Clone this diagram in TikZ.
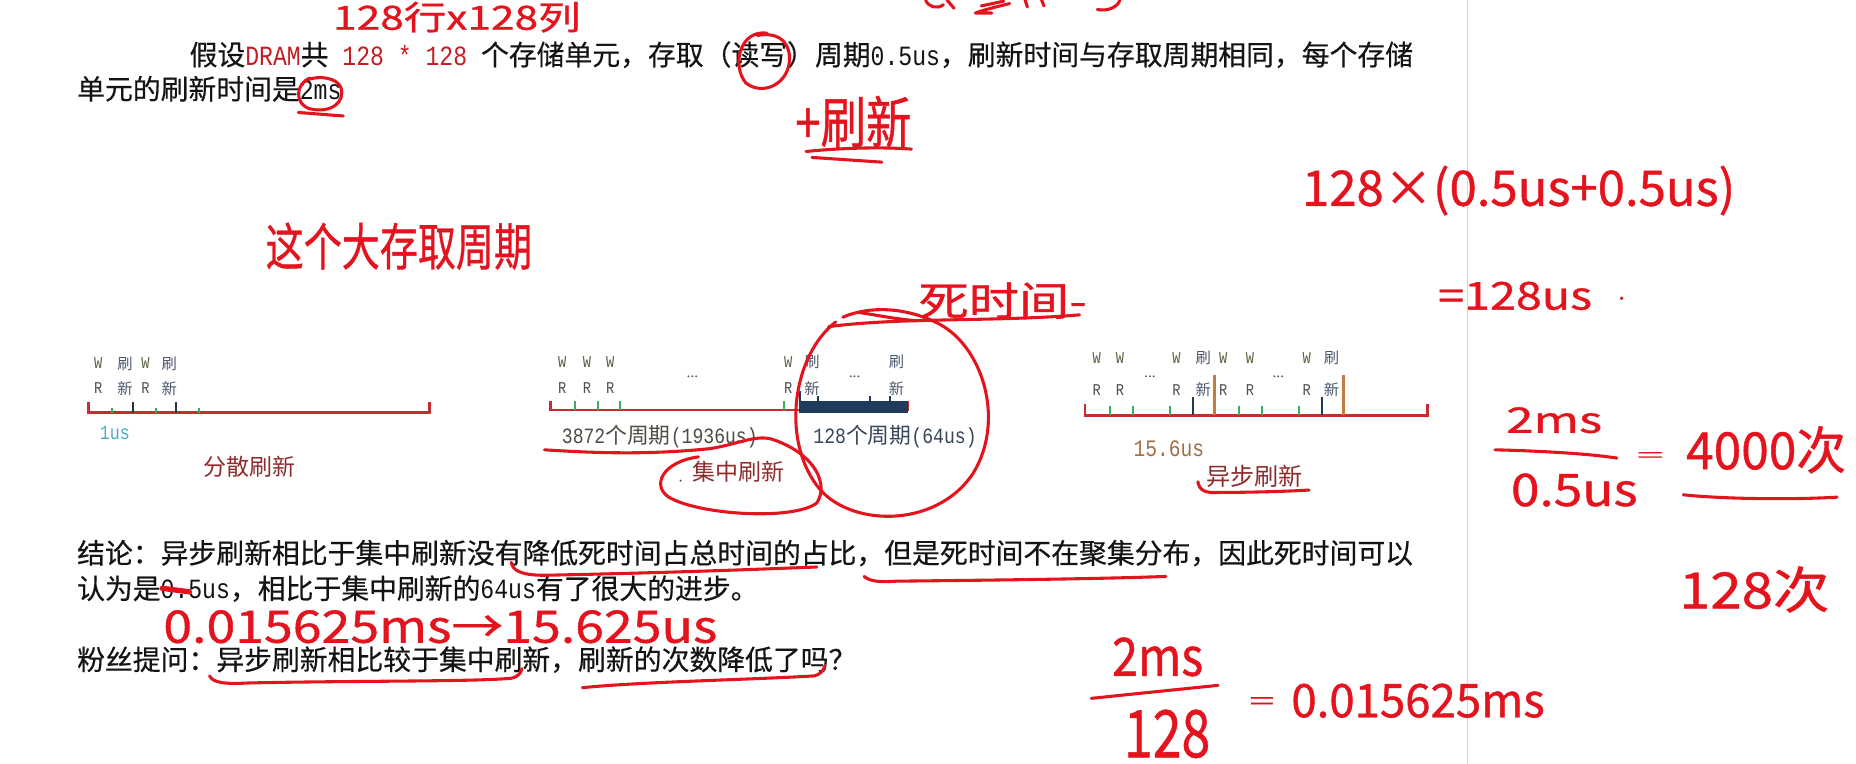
\documentclass[tikz,border=0pt]{standalone}
\usepackage{fontspec}
\usepackage{graphicx}
\setmainfont{Liberation Serif}
\newfontfamily\cjk{Noto Sans CJK SC}
\newfontfamily\cjkb[FakeBold=0.4]{Noto Sans CJK SC}
\newfontfamily\hm[FakeStretch=0.83]{Liberation Mono}
\newfontfamily\hand[FakeBold=0.8]{Noto Sans CJK SC}
\newcommand\hw[3]{\resizebox*{#1bp}{#2bp}{\hand #3}}
\definecolor{bodyk}{RGB}{20,20,20}
\definecolor{dred}{RGB}{196,30,36}
\definecolor{hred}{RGB}{228,20,30}
\definecolor{tlred}{RGB}{200,44,48}
\definecolor{tgreen}{RGB}{62,172,92}
\definecolor{tdark}{RGB}{42,50,66}
\definecolor{tnavy}{RGB}{32,58,92}
\definecolor{torange}{RGB}{200,122,62}
\definecolor{wcol}{RGB}{88,98,62}
\definecolor{rcol}{RGB}{80,80,76}
\definecolor{scol}{RGB}{76,90,110}
\definecolor{cyanl}{RGB}{72,172,200}
\definecolor{brownred}{RGB}{140,44,44}
\definecolor{olivek}{RGB}{72,80,66}
\definecolor{slatek}{RGB}{56,70,90}
\definecolor{tanl}{RGB}{160,110,70}
\definecolor{gline}{RGB}{212,212,212}
\begin{document}
\begin{tikzpicture}[x=1bp,y=-1bp,
  body/.style={anchor=base west, inner sep=0pt, text=bodyk, font={\cjkb\fontsize{23.6}{28}\selectfont}},
  tl/.style={draw=tlred, line width=2.2bp},
  gt/.style={draw=tgreen, line width=1.6bp},
  dt/.style={draw=tdark, line width=1.8bp},
  nt/.style={draw=tnavy, line width=2bp},
  ot/.style={draw=torange, line width=2bp},
  wst/.style={inner sep=0pt, text=wcol, font={\hm\fontsize{14}{14}\selectfont}},
  rst/.style={inner sep=0pt, text=rcol, font={\hm\fontsize{14}{14}\selectfont}},
  sst/.style={inner sep=0pt, text=scol, font={\cjk\fontsize{13}{13}\selectfont}},
  dotsn/.style={inner sep=0pt, text=rcol, font={\rmfamily\fontsize{13}{13}\selectfont}},
  captn/.style={inner sep=0pt, font={\cjk\fontsize{19.5}{22}\selectfont}},
  hwn/.style={inner sep=0pt, text=hred},
  hwl/.style={draw=hred, line width=2.6bp, line cap=round, line join=round}
]
\useasboundingbox (0,0) rectangle (1568,645);
\fill[white] (0,0) rectangle (1568,645);
\clip (0,0) rectangle (1568,645);

% page divider
\draw[gline, line width=1.2bp] (1240,-5) -- (1240,650);

% ---------- body text ----------
\node[body] (l1) at (160,55) {假设{\color{dred}\hm DRAM}共{\color{dred}\hm\ 128 * 128\ }个存储单元，存取（读写）周期{\hm 0.5us}，刷新时间与存取周期相同，每个存储};
\node[body] (l2) at (65,84) {单元的刷新时间是{\hm 2ms}};
\node[body] (l3) at (65,476) {结论：异步刷新相比于集中刷新没有降低死时间占总时间的占比，但是死时间不在聚集分布，因此死时间可以};
\node[body] (l4) at (65,506) {认为是{\hm 0.5us}，相比于集中刷新的{\hm 64us}有了很大的进步。};
\node[body] (l5) at (65,566) {粉丝提问：异步刷新相比较于集中刷新，刷新的次数降低了吗？};

% ---------- diagram 1 : 分散刷新 ----------
\draw[tl] (75,340) -- (75,348.5) -- (363,348.5) -- (363,340);
\foreach \x in {94.7,132,168} \draw[gt] (\x,348.5) -- (\x,344.5);
\foreach \x in {112,149} \draw[dt] (\x,348.5) -- (\x,339.5);
\foreach \x [count=\i] in {83,123} {
  \node[wst] (aw\i) at (\x,307) {W};
  \node[rst] (ar\i) at (\x,328) {R};
}
\foreach \x [count=\i] in {105.6,143} {
  \node[sst] (as\i) at (\x,307) {刷};
  \node[sst] (an\i) at (\x,328) {新};
}
\node[inner sep=0pt, text=cyanl, font={\hm\fontsize{17}{17}\selectfont}] (a1us) at (97,366) {1us};
\node[captn, text=brownred] (acap) at (211,394) {分散刷新};

% ---------- diagram 2 : 集中刷新 ----------
\draw[tl] (465,339) -- (465,346.5) -- (767,346.5) -- (767,339);
\foreach \x in {486,505,524,662} \draw[gt] (\x,346.5) -- (\x,338.5);
\fill[tnavy] (676,339) rectangle (767,349);
\draw[nt] (676,349) -- (676,330);
\foreach \x in {691,735,752} \draw[draw=tnavy, line width=1.4bp] (\x,340) -- (\x,334.5);
\foreach \x [count=\i] in {475,496,515.5,666} {
  \node[wst] (bw\i) at (\x,305.5) {W};
  \node[rst] (br\i) at (\x,328) {R};
}
\foreach \x [count=\i] in {686,757.5} {
  \node[sst] (bs\i) at (\x,305.5) {刷};
  \node[sst] (bn\i) at (\x,328) {新};
}
\node[dotsn] (bd1) at (585,318) {...};
\node[dotsn] (bd2) at (722,318) {...};
\node[anchor=west, inner sep=0pt, text=olivek, font={\cjk\fontsize{18.5}{22}\selectfont}] (bl) at (474.5,369) {{\hm 3872}个周期{\hm (1936us)}};
\node[anchor=west, inner sep=0pt, text=slatek, font={\cjk\fontsize{18.5}{22}\selectfont}] (brt) at (687,369) {{\hm 128}个周期{\hm (64us)}};
\node[captn, text=brownred] (bcap) at (624,398.5) {集中刷新};

% ---------- diagram 3 : 异步刷新 ----------
\draw[tl] (916.6,341) -- (916.6,351) -- (1206,351) -- (1206,341);
\foreach \x in {937.8,957,988.4,1046.7,1065.9,1097.5} \draw[gt] (\x,351) -- (\x,343);
\foreach \x in {1008,1117} \draw[nt] (\x,351) -- (\x,335);
\foreach \x in {1025.9,1134.9} \draw[ot] (\x,351) -- (\x,317);
\foreach \x [count=\i] in {926.5,946.2,994,1033.5,1056,1104} {
  \node[wst] (cw\i) at (\x,302.7) {W};
  \node[rst] (cr\i) at (\x,329.5) {R};
}
\foreach \x [count=\i] in {1016.6,1125} {
  \node[sst] (cs\i) at (\x,302.7) {刷};
  \node[sst] (cn\i) at (\x,329.5) {新};
}
\node[dotsn] (cd1) at (971.5,318) {...};
\node[dotsn] (cd2) at (1080,318) {...};
\node[inner sep=0pt, text=tanl, font={\hm\fontsize{20}{20}\selectfont}] (c156) at (987.5,378.7) {15.6us};
\node[captn, text=brownred, font={\cjk\fontsize{20.5}{23}\selectfont}] (ccap) at (1060,402.7) {异步刷新};

% ---------- handwriting ----------
\node[hwn] (t1) at (386,14.5) {\hw{209}{26}{128行x128列}};
\node[hwn] (t2) at (721,103) {\hw{98}{44}{+刷新}};
\node[hwn] (t3) at (337,208) {\hw{225}{40}{这个大存取周期}};
\node[hwn] (t4) at (847,254) {\hw{142}{31}{死时间-}};
\node[hwn] (t5) at (1283,161) {\hw{366}{42}{128×(0.5us+0.5us)}};
\node[hwn] (t6) at (1280,250) {\hw{130}{24}{=128us}};
\fill[hred] (1370,252) circle (1.6);
\node[hwn] (f1n) at (1313,355) {\hw{81}{22}{2ms}};
\node[hwn] (f1d) at (1330,414) {\hw{107}{28}{0.5us}};
\node[hwn] (f1e) at (1394,386) {\hw{22}{8}{=}};
\node[hwn] (f1r) at (1492,380) {\hw{135}{40}{4000次}};
\node[hwn] (t7) at (1482,498) {\hw{127}{39}{128次}};
\node[hwn] (f2n) at (978,555) {\hw{77}{33}{2ms}};
\node[hwn] (f2d) at (986,620) {\hw{73}{41}{128}};
\node[hwn] (f2e) at (1066,594) {\hw{21}{10}{=}};
\node[hwn] (f2r) at (1198,592) {\hw{214}{29}{0.015625ms}};
\node[hwn] (t8) at (372,529.5) {\hw{468}{28}{0.015625ms→15.625us}};

% top cut-off scribbles
\draw[hwl] (782,0) .. controls (784,6) and (792,8) .. (797,4);
\draw[hwl] (800,0) -- (806,7);
\draw[hwl] (853,3) .. controls (845,5) and (832,8) .. (824,11) -- (838,11);
\draw[hwl] (829,5) -- (848,1);
\draw[hwl] (866,0) -- (868,6);
\draw[hwl] (880,0) -- (882,5);
\draw[hwl] (927,8) .. controls (937,10) and (945,5) .. (946,0);

% circles and marks
\draw[hwl] (262,66) .. controls (250,70) and (248,88) .. (262,92) .. controls (280,96) and (292,86) .. (288,74) .. controls (285,66) and (270,63) .. (258,68);
\draw[hwl] (252,95) -- (290,98);
\draw[hwl] (648,28) .. controls (625,25) and (618,55) .. (630,70) .. controls (645,82) and (668,70) .. (667,48) .. controls (666,33) and (655,27) .. (640,30);
\draw[hwl] (681,128) .. controls (710,125) and (745,124) .. (770,126);
\draw[hwl] (686,133) -- (745,137);
% big circle (dead time)
\draw[hwl] (706,272) .. controls (670,300) and (660,370) .. (690,410) .. controls (715,445) and (790,448) .. (822,400) .. controls (850,355) and (830,290) .. (790,272) .. controls (765,260) and (735,258) .. (712,268);
\draw[hwl] (700,276) .. controls (760,268) and (840,272) .. (912,266);
\draw[hwl] (726,264) .. controls (745,267) and (760,270) .. (775,271);
% centralized refresh ellipse + underline
\draw[hwl] (460,380) .. controls (520,384) and (560,383) .. (600,379) .. controls (625,375) and (640,366) .. (655,372) .. controls (690,385) and (700,410) .. (690,425) .. controls (670,440) and (590,435) .. (565,420) .. controls (550,410) and (560,390) .. (590,386);
\fill[black!70] (575,406) circle (0.9);
% async underline
\draw[hwl] (1012,407) .. controls (1013,414) and (1018,417) .. (1030,416) .. controls (1060,416) and (1090,415) .. (1106,414);
% conclusion underlines
\draw[hwl] (432,475) .. controls (433,482) and (440,486) .. (460,486) .. controls (560,484) and (640,481) .. (690,479);
\draw[hwl] (730,487) .. controls (735,491) and (742,492) .. (757,491) .. controls (850,490) and (930,489) .. (985,487);
\draw[hred, line width=4.5bp, line cap=round] (137,497) -- (160,500);
\draw[hwl] (177,571) .. controls (180,577) and (190,578) .. (210,577) .. controls (300,575) and (400,576) .. (432,573) .. controls (437,572) and (440,569) .. (441,565);
\draw[hwl] (492,581) .. controls (540,576) and (640,574) .. (688,571) .. controls (693,570) and (696,566) .. (697,562);
% fraction bars and underline
\draw[hwl] (1263,380) .. controls (1300,381) and (1340,383) .. (1366,387);
\draw[hwl] (922,590) .. controls (960,586) and (1000,582) .. (1029,579);
\draw[hwl] (1422,418) .. controls (1460,422) and (1520,422) .. (1552,420);
\end{tikzpicture}
\end{document}
